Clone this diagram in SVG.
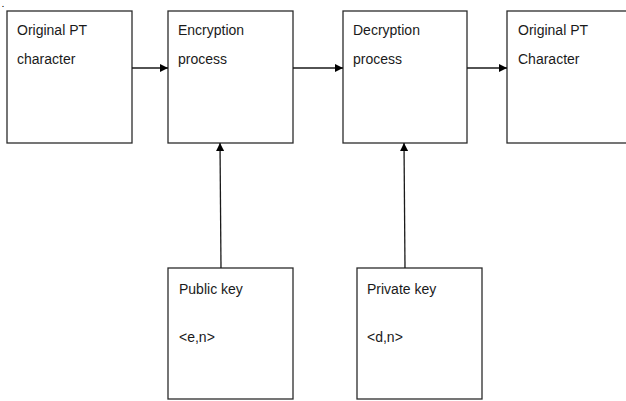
<svg xmlns="http://www.w3.org/2000/svg" width="626" height="401" viewBox="0 0 626 401">
  <style>
    .box { fill: #ffffff; stroke: #2b2b2b; stroke-width: 1.3; }
    .lbl { font-family: "Liberation Sans", Arial, sans-serif; font-size: 14px; fill: #1a1a1a; }
    .link { stroke: #1a1a1a; stroke-width: 1.3; fill: none; marker-end: url(#head); }
  </style>
  <defs>
    <marker id="head" viewBox="0 0 10 10" refX="10" refY="5" markerWidth="8" markerHeight="8" markerUnits="userSpaceOnUse" orient="auto">
      <path d="M0,0 L10,5 L0,10 Z" fill="#000000"/>
    </marker>
  </defs>
  <rect width="626" height="401" fill="#ffffff"/>
  <text x="2" y="7" style="font-family: 'Liberation Sans', Arial, sans-serif; font-size: 7px; font-weight: bold;">.</text>

  <g id="original-pt">
    <rect class="box" x="7" y="11" width="125" height="132"/>
    <text class="lbl" x="17" y="35">Original PT</text>
    <text class="lbl" x="17" y="64">character</text>
  </g>
  <g id="encryption">
    <rect class="box" x="168" y="11" width="125" height="132"/>
    <text class="lbl" x="178" y="35">Encryption</text>
    <text class="lbl" x="178" y="64">process</text>
  </g>
  <g id="decryption">
    <rect class="box" x="343" y="11" width="124" height="132"/>
    <text class="lbl" x="353" y="35">Decryption</text>
    <text class="lbl" x="353" y="64">process</text>
  </g>
  <g id="original-pt-out">
    <rect class="box" x="507" y="11" width="125" height="132"/>
    <text class="lbl" x="518" y="35">Original PT</text>
    <text class="lbl" x="518" y="64">Character</text>
  </g>
  <g id="public-key">
    <rect class="box" x="168" y="268" width="125" height="131"/>
    <text class="lbl" x="179" y="294">Public key</text>
    <text class="lbl" x="179" y="342">&lt;e,n&gt;</text>
  </g>
  <g id="private-key">
    <rect class="box" x="357" y="268" width="125" height="131"/>
    <text class="lbl" x="367" y="294">Private key</text>
    <text class="lbl" x="367" y="342">&lt;d,n&gt;</text>
  </g>

  <g id="connectors">
    <line class="link" x1="132" y1="68" x2="168" y2="68"/>
    <line class="link" x1="293" y1="68" x2="343" y2="68"/>
    <line class="link" x1="467" y1="68" x2="507" y2="68"/>
    <line class="link" x1="221" y1="268" x2="220" y2="143"/>
    <line class="link" x1="405" y1="268" x2="404" y2="143"/>
  </g>
</svg>
